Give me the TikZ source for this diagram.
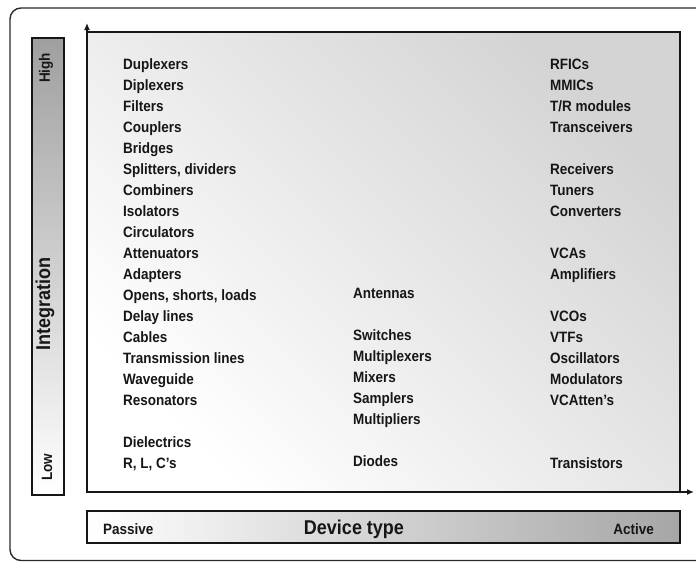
\documentclass[tikz,border=0pt]{standalone}
\usepackage{fontspec}
\setmainfont{Liberation Sans}[FakeStretch=0.9]
\usetikzlibrary{arrows.meta}
\definecolor{ink}{HTML}{161616}
\definecolor{framec}{HTML}{2A2A2A}
\begin{document}
\begin{tikzpicture}[x=1pt,y=-1pt,
  item/.style={anchor=base west, inner sep=0pt, text=ink,
    font=\fontsize{15}{15}\selectfont\bfseries},
  big/.style={inner sep=0pt, text=ink, font=\fontsize{20}{20}\selectfont\bfseries},
  barlabel/.style={inner sep=0pt, text=ink, font=\fontsize{15}{15}\selectfont\bfseries},
  barline/.style={draw=ink, line width=1.3pt},
  axis/.style={draw=ink, line width=2.2pt, -{Latex[length=7pt,width=6pt]}}]
\useasboundingbox (0,0) rectangle (696,562);
\begin{scope}
\clip (0,0) rectangle (696,562);
\draw[framec, line width=1.4pt, rounded corners=11pt] (10,8) rectangle (760,560.5);
\end{scope}
% main box
\shade[top color=gray!34, bottom color=white, shading angle=-45] (87,32) rectangle (680,492);
\draw[ink, line width=1.6pt] (87,32) -- (680,32) -- (680,492);
\coordinate (O) at (87,492);
\coordinate (ytip) at (87,23);
\coordinate (xtip) at (694,492);
\draw[axis] ([yshift=-1pt]O) -- (ytip);
\draw[axis] ([xshift=-1pt]O) -- (xtip);
% left bar
\shade[top color=gray!75, middle color=gray!15, bottom color=white] (32,38) rectangle (64,495);
\draw[barline] (32,38) rectangle (64,495);
\node[barlabel, rotate=90] (high) at (46,68) {High};
\node[big, rotate=90] (integ) at (45,304) {Integration};
\node[barlabel, rotate=90] (low) at (47,467) {Low};
% bottom bar
\shade[left color=white, middle color=gray!12, right color=gray!70] (87,511) rectangle (680,543);
\draw[barline] (87,511) rectangle (680,543);
\node[item] (passive) at (103,534) {Passive};
\node[big, anchor=base] (devtype) at (354,534) {Device type};
\node[item, anchor=base east] (active) at (654,534) {Active};
% left column
\foreach \k/\t in {0/Duplexers, 1/Diplexers, 2/Filters, 3/Couplers, 4/Bridges,
  5/{Splitters, dividers}, 6/Combiners, 7/Isolators, 8/Circulators, 9/Attenuators,
  10/Adapters, 11/{Opens, shorts, loads}, 12/{Delay lines}, 13/Cables,
  14/{Transmission lines}, 15/Waveguide, 16/Resonators, 18/Dielectrics, 19/{R, L, C's}}
  \node[item] (L\k) at (123,{69.5+21*\k}) {\t};
% middle column
\foreach \k/\t in {11/Antennas, 13/Switches, 14/Multiplexers, 15/Mixers,
  16/Samplers, 17/Multipliers, 19/Diodes}
  \node[item] (M\k) at (353,{67.5+21*\k}) {\t};
% right column
\foreach \k/\t in {0/RFICs, 1/MMICs, 2/{T/R modules}, 3/Transceivers, 5/Receivers,
  6/Tuners, 7/Converters, 9/VCAs, 10/Amplifiers, 12/VCOs, 13/VTFs, 14/Oscillators,
  15/Modulators, 16/{VCAtten's}, 19/Transistors}
  \node[item] (R\k) at (550,{69.5+21*\k}) {\t};
\end{tikzpicture}
\end{document}
